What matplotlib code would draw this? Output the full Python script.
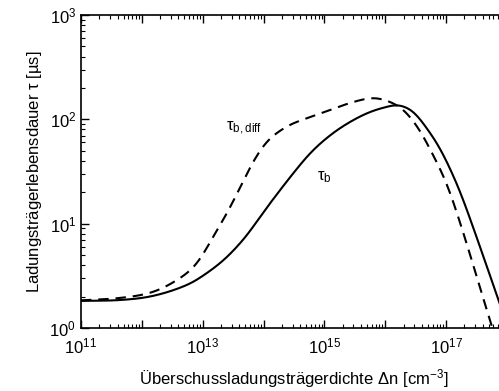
import matplotlib
matplotlib.use("Agg")
import matplotlib.pyplot as plt
from matplotlib.ticker import LogLocator, LogFormatterSciNotation, NullFormatter
import numpy as np

plt.rcParams['font.family'] = ['Liberation Sans', 'DejaVu Sans']
plt.rcParams['mathtext.fontset'] = 'custom'
plt.rcParams['mathtext.rm'] = 'Liberation Sans'
plt.rcParams['mathtext.default'] = 'regular'

# log10(delta n) and log10(tau)
logn_b = [11.0, 11.64, 12.18, 12.74, 13.07, 13.40, 13.73, 13.94, 14.11, 14.44, 14.77,
          15.10, 15.42, 15.75, 16.08, 16.21, 16.41, 16.54, 16.86, 17.07, 17.28, 17.86, 18.0]
logtau_b = [0.26, 0.268, 0.307, 0.412, 0.527, 0.681, 0.892, 1.064, 1.198, 1.448, 1.678,
            1.850, 1.975, 2.071, 2.128, 2.138, 2.095, 2.025, 1.76, 1.52, 1.23, 0.27, 0.03]

logn_diff = [11.0, 11.64, 12.18, 12.63, 12.91, 13.17, 13.40, 13.57, 13.73, 13.94, 14.11,
             14.27, 14.44, 14.77, 15.10, 15.42, 15.80, 16.08, 16.30, 16.53, 16.74, 17.07, 17.76]
logtau_diff = [0.265, 0.288, 0.345, 0.479, 0.623, 0.872, 1.103, 1.294, 1.486, 1.70, 1.82,
               1.89, 1.95, 2.023, 2.090, 2.157, 2.205, 2.167, 2.090, 1.927, 1.71, 1.29, 0.0]


def smooth(xs, ys, win=0.12):
    xs = np.asarray(xs); ys = np.asarray(ys)
    xf = np.linspace(xs[0], xs[-1], 800)
    out = []
    for x in xf:
        i = min(max(np.searchsorted(xs, x) - 1, 0), len(xs) - 2)
        x0, x1 = xs[i], xs[i + 1]
        y0, y1 = ys[i], ys[i + 1]
        m0 = (ys[i + 1] - ys[i - 1]) / (xs[i + 1] - xs[i - 1]) if i > 0 else (y1 - y0) / (x1 - x0)
        m1 = (ys[i + 2] - ys[i]) / (xs[i + 2] - xs[i]) if i + 2 < len(xs) else (y1 - y0) / (x1 - x0)
        h = x1 - x0
        t = (x - x0) / h
        h00 = 2*t**3 - 3*t**2 + 1; h10 = t**3 - 2*t**2 + t
        h01 = -2*t**3 + 3*t**2; h11 = t**3 - t**2
        out.append(h00*y0 + h10*h*m0 + h01*y1 + h11*h*m1)
    out = np.array(out)
    # light moving-average to round off kinks
    n = max(int(win / (xf[1] - xf[0])), 1)
    pad = np.concatenate([np.full(n, np.nan), out, np.full(n, np.nan)])
    sm = np.array([np.nanmean(pad[k:k + 2*n + 1]) for k in range(len(out))])
    sm[:n] = out[:n]; sm[-n:] = out[-n:]
    return 10**xf, 10**sm


fig = plt.figure(figsize=(4.99, 3.91), dpi=100)
ax = fig.add_axes([0.1623, 0.1611, 0.8537, 0.8005])

x, y = smooth(logn_b, logtau_b)
ax.plot(x, y, 'k-', lw=1.5)
x, y = smooth(logn_diff, logtau_diff)
ax.plot(x, y, 'k--', lw=1.5, dashes=(5, 3.3))

ax.set_xscale('log')
ax.set_yscale('log')
ax.set_xlim(1e11, 1e18)
ax.set_ylim(1, 1e3)

ax.xaxis.set_major_locator(LogLocator(base=10, numticks=20))
ax.xaxis.set_major_formatter(plt.FuncFormatter(
    lambda v, p: r'$10^{%d}$' % round(np.log10(v)) if round(np.log10(v)) % 2 == 1 else ''))
ax.xaxis.set_minor_locator(LogLocator(base=10, subs=np.arange(2, 10), numticks=20))
ax.xaxis.set_minor_formatter(NullFormatter())
ax.yaxis.set_major_formatter(LogFormatterSciNotation())
ax.yaxis.set_minor_locator(LogLocator(base=10, subs=np.arange(2, 10), numticks=20))
ax.yaxis.set_minor_formatter(NullFormatter())

ax.tick_params(which='both', direction='in', top=True, right=True, labelsize=12)
ax.tick_params(axis='x', which='major', pad=6)
ax.tick_params(which='major', length=6, width=1)
ax.tick_params(which='minor', length=3, width=0.8)
for s in ax.spines.values():
    s.set_linewidth(1.2)

ax.text(2.4e13, 78, r'$\tau_{b,diff}$', fontsize=12)
ax.text(7.5e14, 26, r'$\tau_b$', fontsize=12)

ax.set_xlabel(r'Überschussladungsträgerdichte $\Delta$n [cm$^{-3}$]', fontsize=12, labelpad=8)
ax.set_ylabel(r'Ladungsträgerlebensdauer $\tau$ [µs]', fontsize=12, labelpad=4)

fig.savefig('out.png', dpi=100)
